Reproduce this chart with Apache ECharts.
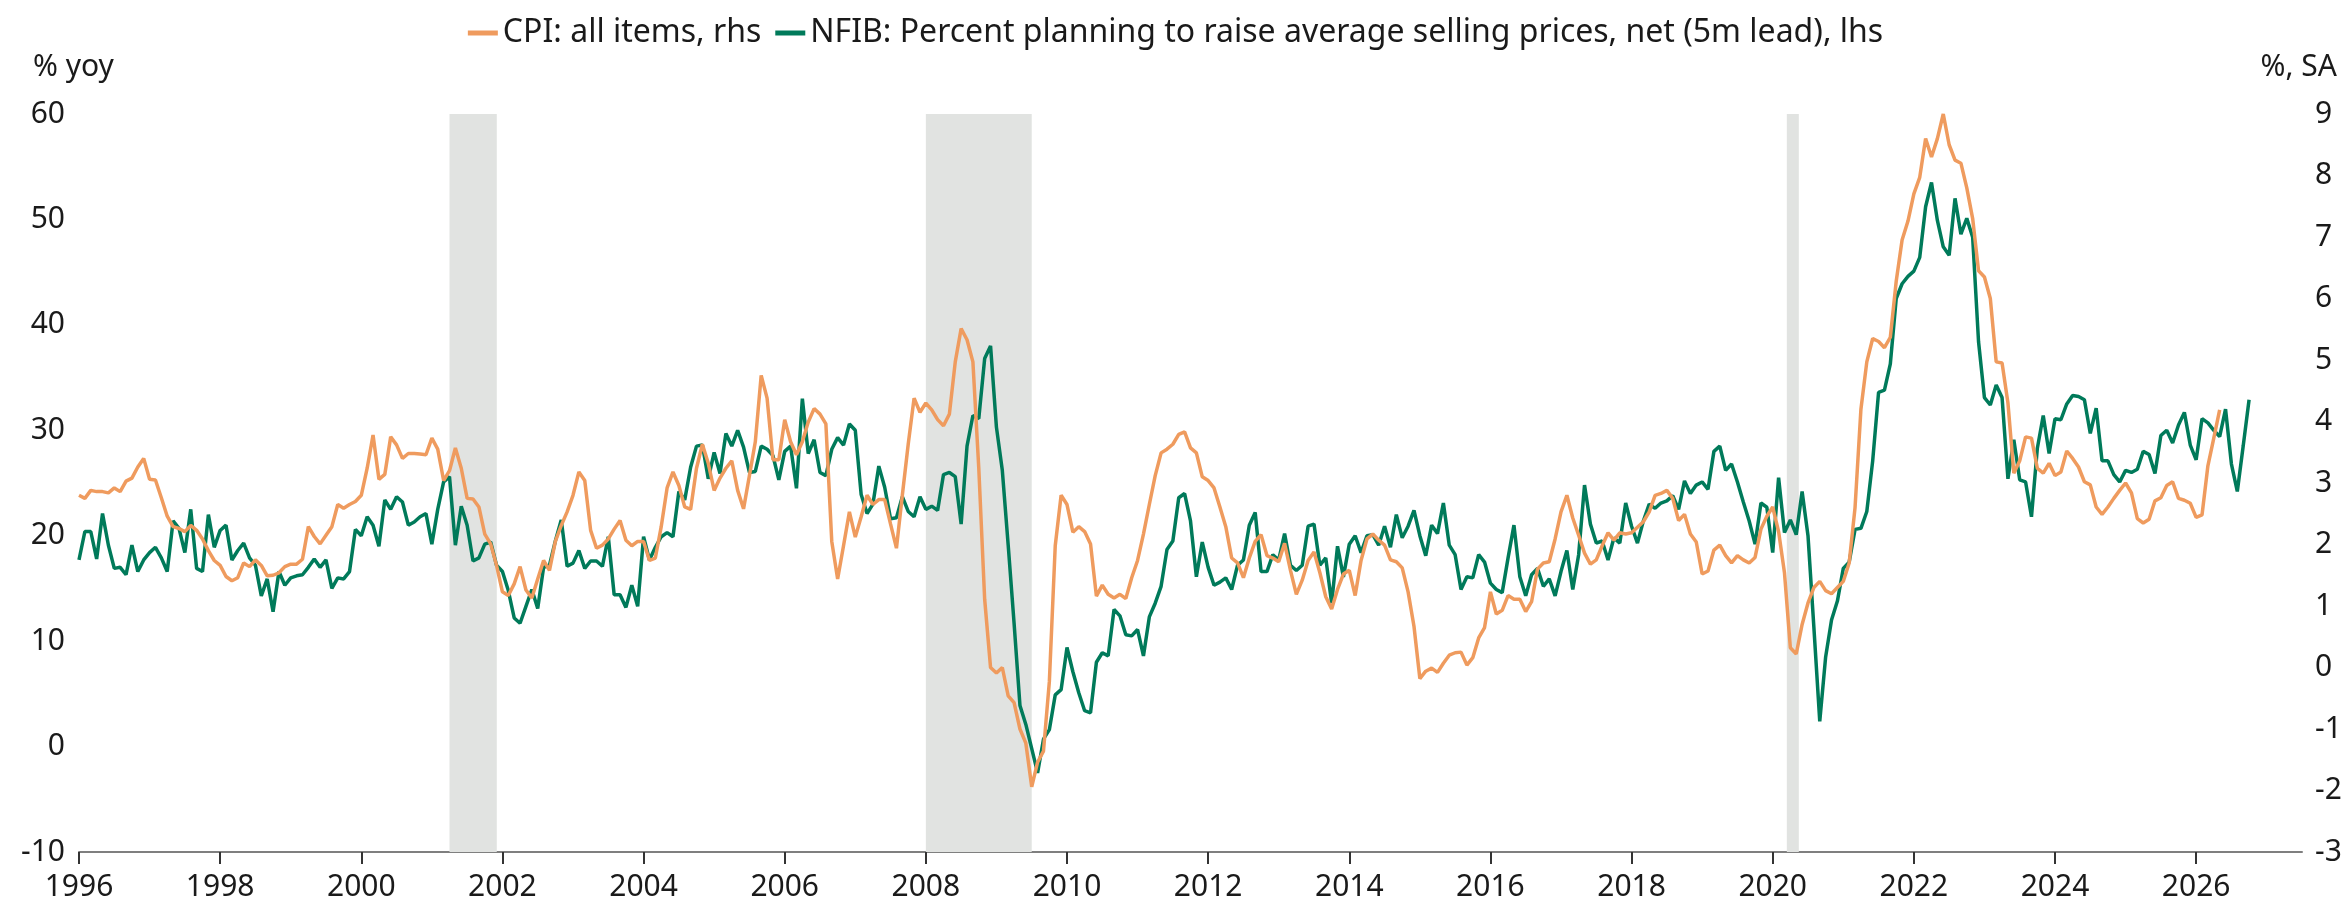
<!DOCTYPE html>
<html>
<head>
<meta charset="utf-8">
<script src="https://cdn.jsdelivr.net/npm/echarts@6/dist/echarts.min.js"></script>
<style>
  html, body { margin: 0; padding: 0; background: #fff; }
  #chart { width: 2351px; height: 909px; }
</style>
</head>
<body>
<div id="chart"></div>
<script>
// monthly series, both start Jan 1996
const startYear = 1996;

// NFIB: percent planning to raise average selling prices, net (5m lead), lhs
const nfib = [
  17.7, 20.4, 20.4, 17.8, 22.1, 19.1, 16.9, 17.0, 16.3, 19.1, 16.6, 17.7,
  18.4, 18.9, 17.9, 16.6, 21.4, 20.7, 18.4, 22.5, 16.9, 16.6, 22.0, 18.9,
  20.5, 21.0, 17.7, 18.6, 19.3, 17.9, 17.2, 14.3, 15.9, 12.8, 16.6, 15.3,
  16.0, 16.2, 16.3, 17.0, 17.8, 17.0, 17.7, 15.0, 16.0, 15.9, 16.6, 20.6,
  20.0, 21.8, 21.0, 19.0, 23.4, 22.5, 23.7, 23.2, 21.0, 21.3, 21.8, 22.1,
  19.2, 22.5, 25.1, 25.6, 19.1, 22.8, 21.0, 17.6, 17.9, 19.2, 19.4, 17.2,
  16.6, 14.8, 12.2, 11.7, 13.3, 14.9, 13.1, 17.0, 17.2, 19.5, 21.5, 17.1,
  17.4, 18.6, 16.9, 17.6, 17.6, 17.1, 19.9, 14.4, 14.4, 13.2, 15.3, 13.3,
  19.9, 17.7, 18.9, 19.9, 20.3, 19.9, 24.2, 23.4, 26.5, 28.5, 28.6, 25.4,
  27.9, 25.9, 29.7, 28.5, 30.0, 28.4, 26.0, 26.1, 28.5, 28.2, 27.6, 25.3,
  28.0, 28.5, 24.5, 33.0, 27.8, 29.1, 26.0, 25.7, 28.2, 29.3, 28.6, 30.6,
  30.0, 23.9, 22.1, 23.0, 26.6, 24.6, 21.6, 21.7, 23.7, 22.3, 21.8, 23.7,
  22.5, 22.8, 22.4, 25.8, 26.0, 25.6, 21.1, 28.5, 31.4, 31.1, 36.8, 38.0,
  30.3, 26.2, 19.1, 11.7, 3.9, 2.1, -0.2, -2.5, 0.7, 1.6, 4.9, 5.4,
  9.4, 7.1, 5.1, 3.4, 3.2, 8.0, 8.9, 8.6, 13.0, 12.4, 10.6, 10.5,
  11.1, 8.6, 12.3, 13.6, 15.2, 18.7, 19.5, 23.6, 24.0, 21.4, 16.1, 19.4,
  17.0, 15.3, 15.6, 16.0, 14.9, 17.2, 17.7, 21.0, 22.2, 16.6, 16.6, 18.2,
  17.7, 20.2, 17.2, 16.7, 17.2, 20.9, 21.1, 17.2, 17.9, 13.6, 19.0, 16.1,
  19.2, 20.0, 18.4, 20.0, 20.1, 19.1, 20.9, 18.9, 22.0, 19.8, 20.9, 22.4,
  20.0, 18.1, 21.0, 20.2, 23.1, 19.1, 18.2, 14.9, 16.1, 16.0, 18.2, 17.5,
  15.5, 14.9, 14.6, 17.9, 21.0, 16.1, 14.3, 16.3, 16.9, 15.2, 15.9, 14.3,
  16.6, 18.6, 14.9, 18.2, 24.8, 21.1, 19.3, 19.5, 17.7, 19.8, 19.3, 23.1,
  20.9, 19.3, 21.4, 23.0, 22.6, 23.1, 23.3, 23.8, 22.5, 25.2, 24.0, 24.8,
  25.1, 24.4, 28.0, 28.5, 26.2, 26.8, 25.1, 23.2, 21.4, 19.2, 23.1, 22.7,
  18.4, 25.5, 20.3, 21.5, 20.1, 24.2, 20.0, 11.3, 2.4, 8.5, 12.0, 13.8,
  16.9, 17.5, 20.6, 20.7, 22.3, 27.1, 33.6, 33.8, 36.3, 42.5, 43.9, 44.6,
  45.1, 46.4, 51.2, 53.5, 49.9, 47.4, 46.6, 52.0, 48.6, 50.1, 48.3, 38.4,
  33.1, 32.4, 34.3, 33.1, 25.4, 29.1, 25.3, 25.1, 21.8, 28.3, 31.4, 27.8,
  31.1, 31.0, 32.5, 33.3, 33.2, 32.9, 29.7, 32.1, 27.1, 27.1, 25.8, 25.1,
  26.2, 26.0, 26.3, 28.0, 27.7, 25.9, 29.5, 30.0, 28.8, 30.5, 31.7, 28.6,
  27.2, 31.1, 30.7, 30.0, 29.4, 32.0, 26.8, 24.2, 28.5, 32.9
];

// CPI: all items, % yoy, rhs
const cpi = [
  2.80, 2.75, 2.88, 2.86, 2.86, 2.84, 2.92, 2.86, 3.03, 3.08, 3.26, 3.40,
  3.06, 3.05, 2.76, 2.46, 2.29, 2.26, 2.21, 2.31, 2.23, 2.09, 1.90, 1.74,
  1.66, 1.48, 1.41, 1.46, 1.70, 1.64, 1.75, 1.66, 1.49, 1.50, 1.54, 1.64,
  1.68, 1.68, 1.76, 2.29, 2.13, 2.01, 2.15, 2.29, 2.65, 2.59, 2.65, 2.70,
  2.80, 3.24, 3.78, 3.06, 3.14, 3.75, 3.62, 3.40, 3.48, 3.48, 3.47, 3.46,
  3.73, 3.55, 3.04, 3.20, 3.57, 3.24, 2.75, 2.74, 2.61, 2.17, 2.01, 1.66,
  1.23, 1.17, 1.36, 1.64, 1.26, 1.13, 1.44, 1.74, 1.58, 2.05, 2.31, 2.53,
  2.80, 3.18, 3.04, 2.23, 1.94, 1.99, 2.09, 2.25, 2.39, 2.07, 1.98, 2.05,
  2.05, 1.74, 1.78, 2.29, 2.92, 3.18, 2.96, 2.61, 2.57, 3.24, 3.63, 3.32,
  2.88, 3.08, 3.24, 3.36, 2.88, 2.58, 3.12, 3.67, 4.75, 4.38, 3.38, 3.38,
  4.03, 3.67, 3.46, 3.67, 3.99, 4.21, 4.12, 3.96, 2.05, 1.44, 1.98, 2.53,
  2.12, 2.45, 2.80, 2.65, 2.73, 2.73, 2.33, 1.94, 2.80, 3.63, 4.38, 4.15,
  4.30, 4.19, 4.03, 3.93, 4.12, 4.97, 5.51, 5.33, 4.97, 3.24, 1.11, 0.00,
  -0.09, 0.00, -0.46, -0.57, -1.00, -1.23, -1.94, -1.54, -1.36, -0.23, 1.98, 2.80,
  2.65, 2.20, 2.29, 2.21, 2.01, 1.16, 1.34, 1.19, 1.13, 1.19, 1.12, 1.46,
  1.74, 2.17, 2.65, 3.12, 3.49, 3.55, 3.63, 3.79, 3.83, 3.57, 3.49, 3.10,
  3.04, 2.92, 2.61, 2.29, 1.78, 1.70, 1.46, 1.78, 2.05, 2.16, 1.82, 1.78,
  1.72, 2.02, 1.58, 1.19, 1.42, 1.74, 1.88, 1.54, 1.15, 0.95, 1.27, 1.52,
  1.58, 1.17, 1.74, 2.09, 2.17, 2.07, 1.99, 1.75, 1.72, 1.62, 1.23, 0.67,
  -0.18, -0.06, -0.01, -0.08, 0.07, 0.20, 0.24, 0.25, 0.04, 0.16, 0.48, 0.65,
  1.23, 0.87, 0.93, 1.17, 1.11, 1.11, 0.91, 1.07, 1.60, 1.70, 1.72, 2.09,
  2.53, 2.80, 2.43, 2.15, 1.86, 1.68, 1.75, 1.98, 2.19, 2.07, 2.19, 2.17,
  2.19, 2.28, 2.37, 2.53, 2.80, 2.83, 2.88, 2.75, 2.39, 2.49, 2.17, 2.04,
  1.52, 1.57, 1.91, 1.99, 1.82, 1.70, 1.82, 1.75, 1.70, 1.79, 2.25, 2.46,
  2.61, 2.21, 1.54, 0.32, 0.22, 0.70, 1.05, 1.30, 1.40, 1.25, 1.20, 1.30,
  1.40, 1.70, 2.60, 4.20, 4.97, 5.35, 5.30, 5.20, 5.37, 6.28, 6.95, 7.26,
  7.70, 7.97, 8.60, 8.30, 8.60, 9.00, 8.50, 8.25, 8.20, 7.80, 7.30, 6.45,
  6.35, 6.00, 4.97, 4.95, 4.30, 3.16, 3.36, 3.75, 3.73, 3.24, 3.16, 3.32,
  3.12, 3.18, 3.52, 3.40, 3.26, 3.02, 2.97, 2.61, 2.49, 2.61, 2.75, 2.88,
  3.00, 2.84, 2.42, 2.35, 2.41, 2.71, 2.76, 2.96, 3.02, 2.75, 2.72, 2.67,
  2.44, 2.48, 3.28, 3.73, 4.19
];

// recession shading, start/end in fractional years
const recessions = [
  [2001.25, 2001.92],
  [2008.0, 2009.5],
  [2020.2, 2020.37]
];

const xTicks = { min: 1996, max: 2027.5, step: 2 };
const leftTicks = { min: -10, max: 60, step: 10 };
const rightTicks = { min: -3, max: 9, step: 1 };

const FONT = '"Noto Sans", "Open Sans", sans-serif';
const TEXT = '#1a1a1a';
const ORANGE = '#ef9b5e';
const GREEN = '#007a5a';

const toPairs = arr => arr.map((v, i) => [startYear + i / 12, v]);

const chart = echarts.init(document.getElementById('chart'));
chart.setOption({
  animation: false,
  backgroundColor: '#fff',
  textStyle: { fontFamily: FONT, color: TEXT },
  legend: {
    top: 12,
    left: 'center',
    data: ['CPI: all items, rhs', 'NFIB: Percent planning to raise average selling prices, net (5m lead), lhs'],
    icon: 'rect',
    itemWidth: 30,
    itemHeight: 5,
    itemGap: 14,
    textStyle: { fontFamily: FONT, fontSize: 32, color: TEXT }
  },
  graphic: [
    { type: 'text', left: 33, top: 52, style: { text: '% yoy', font: '30px ' + FONT, fill: TEXT } },
    { type: 'text', right: 14, top: 52, style: { text: '%, SA', font: '30px ' + FONT, fill: TEXT } }
  ],
  grid: { left: 79, right: 49, top: 114, bottom: 57 },
  xAxis: {
    type: 'value',
    min: xTicks.min,
    max: xTicks.max,
    interval: xTicks.step,
    splitLine: { show: false },
    axisLine: { onZero: false, lineStyle: { color: '#7f7f7f', width: 2 } },
    axisTick: { length: 12, lineStyle: { color: '#333', width: 2 } },
    axisLabel: {
      fontSize: 30, color: TEXT, margin: 20,
      showMaxLabel: false,
      formatter: v => String(v)
    }
  },
  yAxis: [
    {
      type: 'value', position: 'left',
      min: leftTicks.min, max: leftTicks.max, interval: leftTicks.step,
      splitLine: { show: false },
      axisLine: { show: false },
      axisTick: { show: false },
      axisLabel: { fontSize: 30, color: TEXT, margin: 14 }
    },
    {
      type: 'value', position: 'right',
      min: rightTicks.min, max: rightTicks.max, interval: rightTicks.step,
      splitLine: { show: false },
      axisLine: { show: false },
      axisTick: { show: false },
      axisLabel: { fontSize: 30, color: TEXT, margin: 13 }
    }
  ],
  series: [
    {
      name: 'recessions',
      type: 'line',
      data: [],
      z: 1,
      markArea: {
        silent: true,
        itemStyle: { color: '#e1e3e1' },
        data: recessions.map(r => [{ xAxis: r[0] }, { xAxis: r[1] }])
      }
    },
    {
      name: 'NFIB: Percent planning to raise average selling prices, net (5m lead), lhs',
      type: 'line',
      yAxisIndex: 0,
      z: 3,
      data: toPairs(nfib),
      showSymbol: false,
      symbol: 'none',
      color: GREEN,
      lineStyle: { color: GREEN, width: 3.5 }
    },
    {
      name: 'CPI: all items, rhs',
      type: 'line',
      yAxisIndex: 1,
      z: 4,
      data: toPairs(cpi),
      showSymbol: false,
      symbol: 'none',
      color: ORANGE,
      lineStyle: { color: ORANGE, width: 3.5 }
    }
  ]
});
</script>
</body>
</html>
